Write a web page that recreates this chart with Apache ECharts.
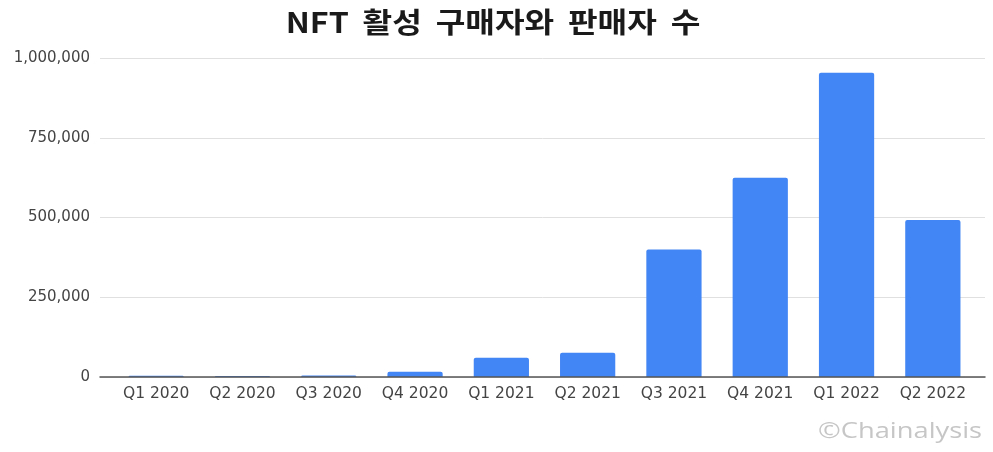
<!DOCTYPE html>
<html>
<head>
<meta charset="utf-8">
<script src="https://cdn.jsdelivr.net/npm/echarts@6/dist/echarts.min.js"></script>
<style>
  html, body { margin: 0; padding: 0; background: #fff; }
  #chart { width: 993px; height: 452px; }
</style>
</head>
<body>
<div id="chart"></div>
<script>
// Quarterly count of active NFT buyers and sellers
const quarters = ['Q1 2020', 'Q2 2020', 'Q3 2020', 'Q4 2020', 'Q1 2021', 'Q2 2021', 'Q3 2021', 'Q4 2021', 'Q1 2022', 'Q2 2022'];
const activeTraders = [4000, 3500, 4500, 16500, 60500, 76000, 400000, 625000, 954000, 492000];
const yTicks = [0, 250000, 500000, 750000, 1000000];
const titleWords = ['NFT', '활성', '구매자와', '판매자', '수'];

const chart = echarts.init(document.getElementById('chart'), null, { renderer: 'canvas' });

// Title words joined by fixed-width gaps; the whole line is drawn slightly widened
const titleText = titleWords.map(w => '{w|' + w + '}').join('{g| }');

const labelFont = '"DejaVu Sans", Verdana, sans-serif';
const yMin = yTicks[0];
const yMax = yTicks[yTicks.length - 1];
const yStep = yTicks[1] - yTicks[0];

chart.setOption({
  animation: false,
  backgroundColor: '#ffffff',
  graphic: [{
    type: 'text',
    x: 493,
    y: 8,
    scaleX: 1.15,
    style: {
      text: titleText,
      align: 'center',
      verticalAlign: 'top',
      rich: {
        w: {
          fontFamily: '"Noto Sans CJK KR", "Noto Sans", sans-serif',
          fontWeight: 'bold',
          fontSize: 28,
          fill: '#1a1a1a'
        },
        g: { width: 12, fontSize: 28 }
      }
    }
  }, {
    type: 'text',
    left: 818,
    top: 422,
    scaleX: 1.3,
    style: {
      text: '©Chainalysis',
      fontFamily: '"Open Sans", "Noto Sans", sans-serif',
      fontSize: 21,
      fill: '#c6c6c6'
    }
  }],
  // grid 0 holds the bars; grid 1 is a slightly wider frame carrying gridlines and the baseline
  grid: [
    { left: 113, right: 17, top: 58, bottom: 75 },
    { left: 100, right: 8, top: 58, bottom: 75 }
  ],
  xAxis: [{
    type: 'category',
    gridIndex: 0,
    data: quarters,
    axisLine: { show: false },
    axisTick: { show: false },
    axisLabel: {
      interval: 0,
      fontFamily: labelFont,
      fontSize: 15.5,
      color: '#444',
      margin: 9
    }
  }, {
    type: 'value',
    gridIndex: 1,
    min: 0,
    max: 1,
    z: 10,
    axisLine: { show: true, lineStyle: { color: '#555', width: 1.5 } },
    axisTick: { show: false },
    axisLabel: { show: false },
    splitLine: { show: false }
  }],
  yAxis: [{
    type: 'value',
    gridIndex: 0,
    min: yMin,
    max: yMax,
    interval: yStep,
    axisLine: { show: false },
    axisTick: { show: false },
    splitLine: { show: false },
    axisLabel: {
      fontFamily: labelFont,
      fontSize: 15,
      color: '#444',
      margin: 23,
      formatter: v => v.toLocaleString('en-US')
    }
  }, {
    type: 'value',
    gridIndex: 1,
    min: yMin,
    max: yMax,
    interval: yStep,
    axisLine: { show: false },
    axisTick: { show: false },
    axisLabel: { show: false },
    splitLine: { lineStyle: { color: '#e0e0e0', width: 1 } }
  }],
  series: [{
    type: 'bar',
    xAxisIndex: 0,
    yAxisIndex: 0,
    data: activeTraders,
    barWidth: '64%',
    z: 3,
    itemStyle: { color: '#4285f4', borderRadius: [2, 2, 0, 0] }
  }]
});
</script>
</body>
</html>
